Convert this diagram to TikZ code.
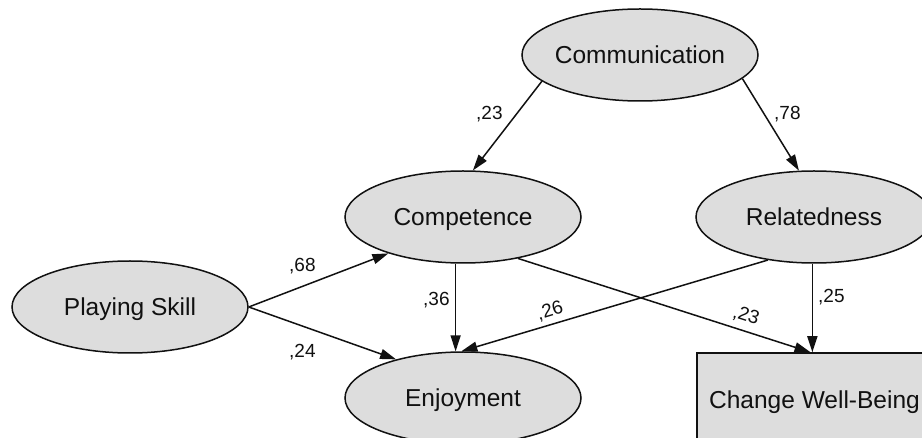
\documentclass[tikz,border=0pt]{standalone}
\usepackage{fontspec}
\setmainfont{Liberation Sans}
\usetikzlibrary{shapes.geometric,arrows.meta}
\definecolor{nodefill}{RGB}{221,221,221}
\definecolor{ink}{RGB}{17,17,17}
\begin{document}
\begin{tikzpicture}[x=1pt,y=-1pt,
  latent/.style={ellipse, draw=ink, line width=1.5pt, fill=nodefill,
    minimum width=236pt, minimum height=92pt, inner sep=0pt},
  observed/.style={rectangle, draw=ink, line width=1.5pt, fill=nodefill,
    minimum width=235pt, minimum height=94pt, inner sep=0pt},
  nodetext/.style={font=\fontsize{24.5}{28}\selectfont, text=ink,
    text height=17.5pt, text depth=0pt, inner sep=0pt},
  link/.style={draw=ink, line width=1.5pt, -{Triangle[length=16pt,width=10pt]}},
  coef/.style={font=\fontsize{19}{22}\selectfont, text=ink, inner sep=0pt}
]
\useasboundingbox (0,0) rectangle (922,438);
\clip (0,0) rectangle (922,438);
\fill[white] (0,0) rectangle (922,438);

% constructs
\node[latent, label={[nodetext]center:Communication}] (comm) at (640,55) {};
\node[latent, label={[nodetext]center:Competence}]    (comp) at (463,217) {};
\node[latent, label={[nodetext]center:Relatedness}]   (rel)  at (814,217) {};
\node[latent, label={[nodetext]center:Playing Skill}] (ps)   at (130,307) {};
\node[latent, label={[nodetext]center:Enjoyment}]     (enj)  at (463,398) {};
\node[observed, label={[nodetext]center:Change Well-Being}] (cwb) at (814.5,400) {};

% structural paths
\draw[link] (comm.195) -- (comp.78);
\draw[link] (comm.-13) -- (rel.108);
\draw[link] (ps.east) -- (comp.206);
\draw[link] (ps.east) -- (enj.150);
\draw[link] (comp.261) -- (enj.99);
\draw[link] (rel.223) -- (enj.92);
\draw[link] (comp.-37) -- ([xshift=-4pt]cwb.north);
\draw[link] (rel.268) -- (rel.268 |- cwb.north);

% path coefficients
\node[coef, anchor=base west] (k1) at (476,120) {,23};
\node[coef, anchor=base west] (k2) at (774,120) {,78};
\node[coef, anchor=base west] (k3) at (289,272) {,68};
\node[coef, anchor=base west] (k4) at (289,358) {,24};
\node[coef, anchor=base west] (k5) at (423,306) {,36};
\node[coef, anchor=base west] (k6) at (818,303) {,25};
\node[coef, rotate=17]  (k7) at (550,311) {,26};
\node[coef, rotate=-18] (k8) at (746,316) {,23};
\end{tikzpicture}
\end{document}
